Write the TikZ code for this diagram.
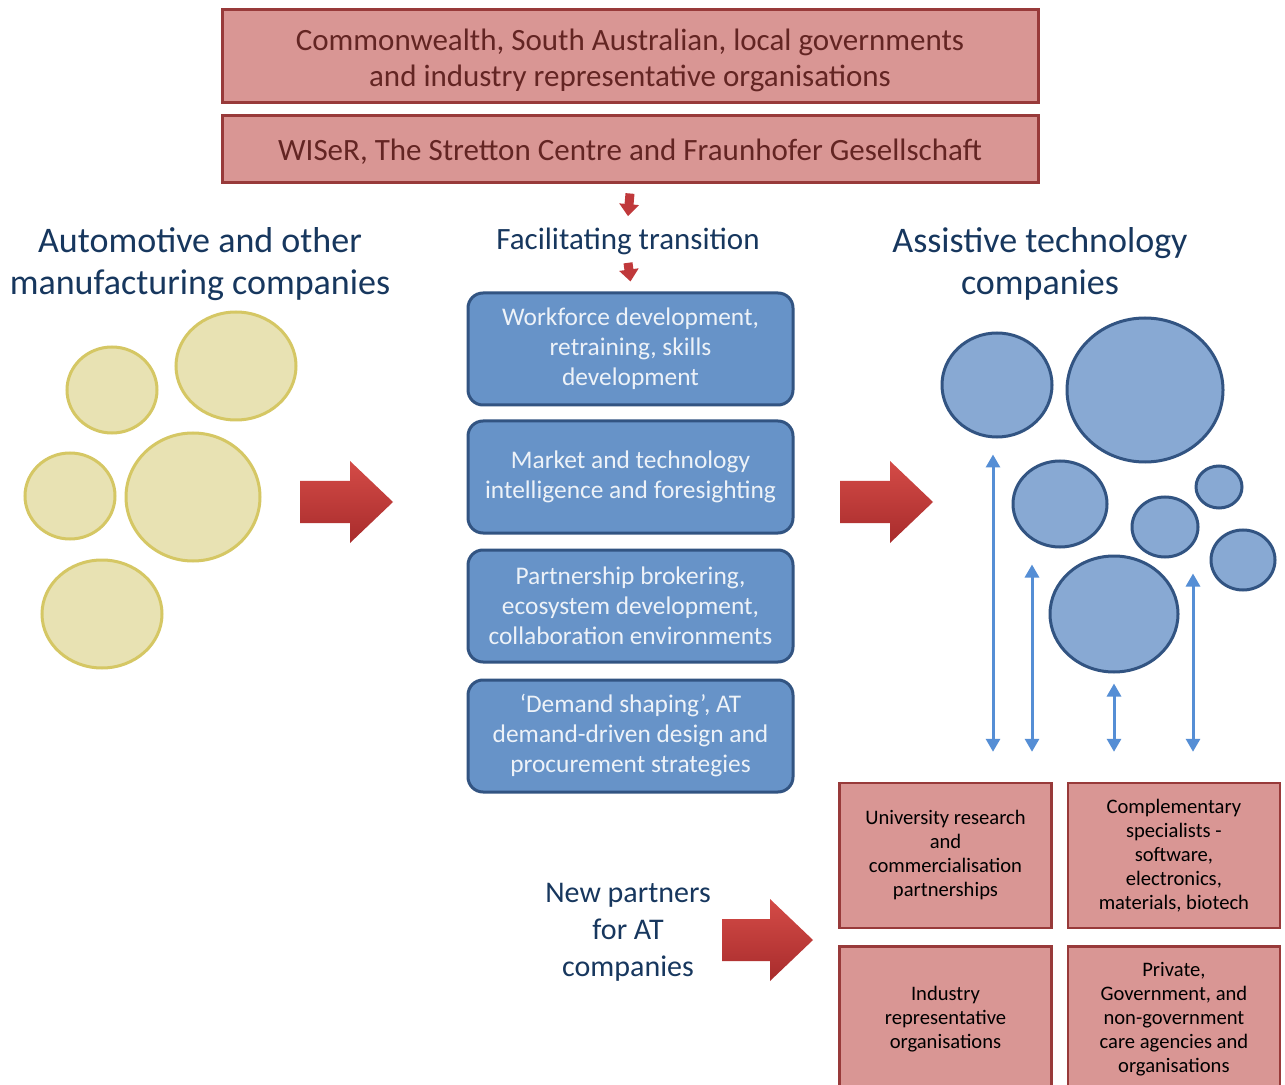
\documentclass[tikz,border=0pt]{standalone}
\usepackage{fontspec}
\setmainfont{Carlito}
\usetikzlibrary{shapes.geometric,arrows.meta,positioning}

\definecolor{boxred}{HTML}{D99694}
\definecolor{lineRed}{HTML}{983A3A}
\definecolor{textRed}{HTML}{632523}
\definecolor{headBlue}{HTML}{17375E}
\definecolor{boxBlue}{HTML}{6793C8}
\definecolor{lineBlue}{HTML}{325482}
\definecolor{circBlue}{HTML}{88A9D3}
\definecolor{circYellow}{HTML}{E8E2B3}
\definecolor{lineYellow}{HTML}{D5C764}
\definecolor{linkBlue}{HTML}{558ED5}
\definecolor{tipRed}{HTML}{C0393B}
\definecolor{arrowTop}{HTML}{D44B47}
\definecolor{arrowBottom}{HTML}{A82C2C}

\begin{document}
\begin{tikzpicture}[
        x=0.5pt, y=-0.5pt,
        govbox/.style = {
            draw=lineRed,
            line width=1.5pt,
            fill=boxred,
            text=textRed,
            minimum width=408pt,
            align=center,
            font=\fontsize{15.5}{18}\selectfont
        },
        heading/.style = {
            text=headBlue,
            align=center,
            font=\fontsize{18}{21}\selectfont
        },
        taskbox/.style = {
            draw=lineBlue,
            line width=1.5pt,
            fill=boxBlue,
            rounded corners=7.5pt,
            text=white!88!boxBlue,
            minimum width=162.5pt,
            minimum height=56pt,
            align=center,
            font=\fontsize{12.7}{15}\selectfont
        },
        partnerbox/.style = {
            draw=lineRed,
            line width=1.2pt,
            fill=boxred,
            text=black,
            minimum width=106pt,
            minimum height=72.5pt,
            align=center,
            font=\fontsize{10.3}{12}\selectfont
        },
        yellowcirc/.style = {
            ellipse,
            draw=lineYellow,
            line width=1.5pt,
            fill=circYellow,
            inner sep=0pt
        },
        bluecirc/.style = {
            ellipse,
            draw=lineBlue,
            line width=1.5pt,
            fill=circBlue,
            inner sep=0pt
        },
        bigarrow/.style = {
            top color=arrowTop,
            bottom color=arrowBottom
        },
        smallarrow/.style = {
            draw=tipRed,
            line width=4.5pt,
            -{Triangle[width=9.5pt,length=6pt]}
        },
        linkarrow/.style = {
            draw=linkBlue,
            line width=1.5pt,
            {Triangle[width=7pt,length=6.5pt]}-{Triangle[width=7pt,length=6.5pt]}
        }
    ]
    \clip (0,0) rectangle (1285,1085);
    \fill[white] (0,0) rectangle (1285,1085);

    % top boxes
    \node[govbox, minimum height=46.5pt] (gov) at (630,56.5)
        {\rule{0pt}{15pt}Commonwealth, South Australian, local governments\\and industry representative organisations};
    \node[govbox, minimum height=33.5pt, below=5pt of gov] (wiser)
        {\rule{0pt}{13pt}WISeR, The Stretton Centre and Fraunhofer Gesellschaft};

    % headings
    \node[heading] (auto) at (200,264) {Automotive and other\\manufacturing companies};
    \node[heading] (assist) at (1040,264) {Assistive technology\\companies};
    \node[text=headBlue, font=\fontsize{15.5}{18}\selectfont, inner sep=0pt] (facil) at (628,241)
        {Facilitating transition};

    \draw[smallarrow] ([yshift=-4.5pt]wiser.south) -- ([yshift=5.5pt]facil.north);

    % facilitating activities
    \node[taskbox] (work) at (630.5,349) {Workforce development,\\retraining, skills\\development};
    \node[taskbox, below=6.5pt of work] (market) {Market and technology\\intelligence and foresighting};
    \node[taskbox, below=7pt of market] (broker) {Partnership brokering,\\ecosystem development,\\collaboration environments};
    \node[taskbox, below=7.5pt of broker] (demand) {`Demand shaping', AT\\demand-driven design and\\procurement strategies};

    \draw[smallarrow] ([yshift=-4pt]facil.south) -- ([yshift=5pt]work.north);

    % manufacturing companies
    \foreach \cx/\cy/\w/\h [count=\i] in {112/390/90/86, 236/366/120/108, 70/496/90/86,
                                          193/497/134/128, 102/614/120/108} {
        \node[yellowcirc, minimum width=\w*0.5pt, minimum height=\h*0.5pt] (yc\i) at (\cx,\cy) {};
    }

    % assistive technology companies
    \foreach \cx/\cy/\w/\h [count=\i] in {997/385/110/104, 1145/390/156/144, 1060/504/94/86,
                                          1219/487/46/42, 1165/527/66/60, 1243/560/64/60,
                                          1114/614/128/116} {
        \node[bluecirc, minimum width=\w*0.5pt, minimum height=\h*0.5pt] (bc\i) at (\cx,\cy) {};
    }

    % big arrows
    \foreach \ax/\ay/\len in {300/502/93, 840/502/93, 722/940/91} {
        \path[bigarrow] (\ax,\ay-21) -- (\ax+\len-43,\ay-21) -- (\ax+\len-43,\ay-41)
            -- (\ax+\len,\ay) -- (\ax+\len-43,\ay+41) -- (\ax+\len-43,\ay+21)
            -- (\ax,\ay+21) -- cycle;
    }

    % new partners
    \node[text=headBlue, align=center, font=\fontsize{15}{18.5}\selectfont] (partners) at (628,932)
        {New partners\\for AT\\companies};

    \node[partnerbox] (uni) at (945.5,855.5)
        {University research\\and\\commercialisation\\partnerships};
    \node[partnerbox, right=7pt of uni] (compl)
        {Complementary\\specialists -\\software,\\electronics,\\materials, biotech};
    \node[partnerbox, below=8pt of uni] (indus)
        {Industry\\representative\\organisations};
    \node[partnerbox, below=8pt of compl] (care)
        {Private,\\Government, and\\non-government\\care agencies and\\organisations};

    % links between companies and partners
    \draw[linkarrow] ([xshift=-2pt,yshift=-8pt]bc1.south) -- ([xshift=-2pt,yshift=15pt]bc1.south |- uni.north);
    \draw[linkarrow] ([xshift=-14pt,yshift=-8pt]bc3.south) -- ([xshift=-14pt,yshift=15pt]bc3.south |- uni.north);
    \draw[linkarrow] ([yshift=-5pt]bc7.south) -- ([yshift=15pt]bc7.south |- uni.north);
    \draw[linkarrow] ([xshift=14pt,yshift=-7.5pt]bc5.south) -- ([xshift=14pt,yshift=15pt]bc5.south |- uni.north);

\end{tikzpicture}
\end{document}
